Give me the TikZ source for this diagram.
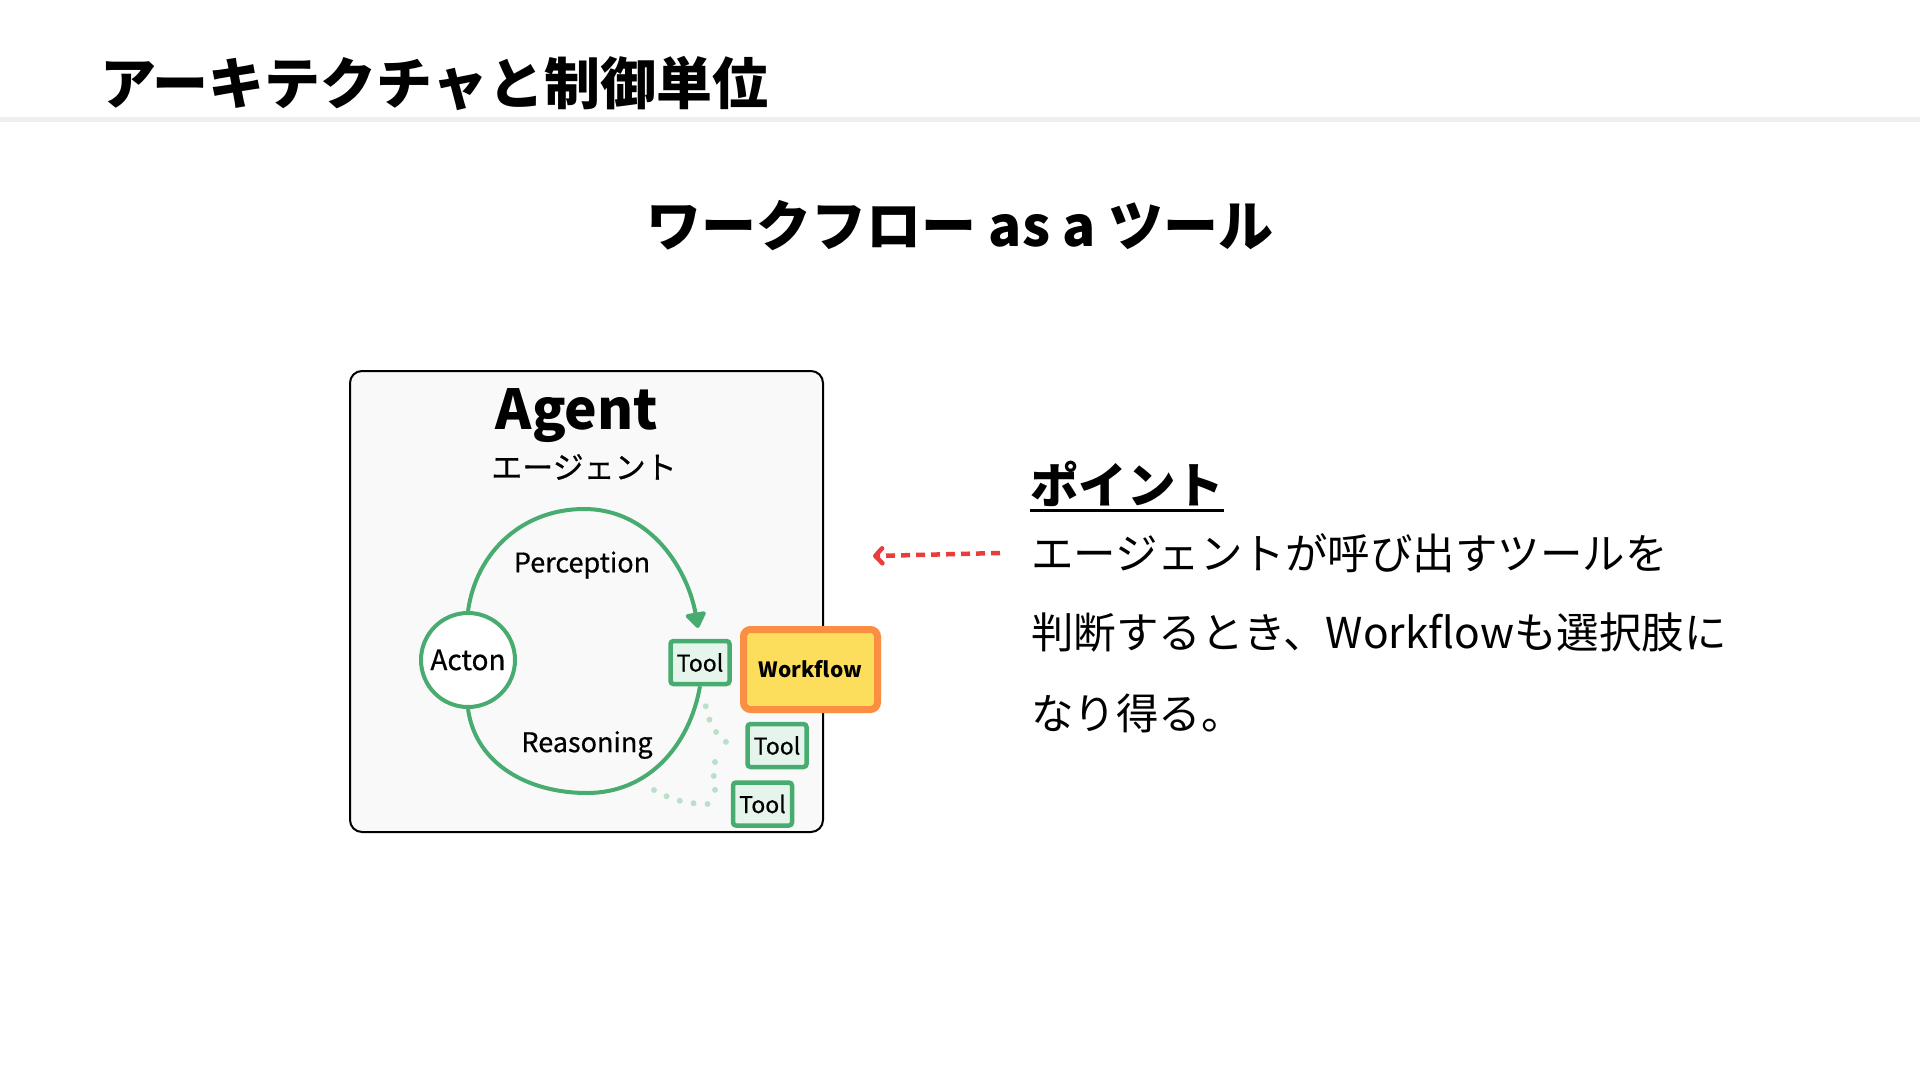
\documentclass[tikz,border=0pt]{standalone}
\usepackage{fontspec}
\setmainfont{Noto Sans CJK JP}
\newfontfamily\medfont[FakeBold=0.6]{Noto Sans CJK JP}
\usetikzlibrary{arrows.meta,positioning}
\definecolor{loopgreen}{RGB}{72,172,112}
\definecolor{toolfill}{RGB}{230,245,236}
\definecolor{dotgreen}{RGB}{185,225,202}
\definecolor{wforange}{RGB}{250,142,66}
\definecolor{wfyellow}{RGB}{253,222,92}
\definecolor{agentbg}{RGB}{249,249,249}
\definecolor{rulegray}{RGB}{238,238,238}
\definecolor{pointred}{RGB}{235,60,60}
\begin{document}
\begin{tikzpicture}[
			x=1pt,y=-1pt,
			every node/.style={inner sep=0pt},
			loopline/.style={draw=loopgreen,line width=4pt},
			toolbox/.style={draw=loopgreen,fill=toolfill,line width=4.5pt,rounded corners=3pt,
					minimum width=59pt,minimum height=43pt,font=\medfont\fontsize{23}{23}\selectfont},
			dotline/.style={draw=dotgreen,line width=6pt,line cap=round,dash pattern=on 0pt off 14pt},
			looplabel/.style={font=\medfont\fontsize{27}{27}\selectfont},
			bodyline/.style={anchor=west,font=\fontsize{42.5}{42.5}\selectfont}
		]
		\useasboundingbox[fill=white] (0,0) rectangle (1920,1080);
		\fill[rulegray] (0,117) rectangle (1920,122);
		\node[anchor=west,font=\fontsize{56}{56}\selectfont\bfseries] (title) at (100,83) {アーキテクチャと制御単位};
		\node[font=\fontsize{55}{55}\selectfont\bfseries] (subtitle) at (960,226) {ワークフロー as a ツール};

		\node[draw=black,line width=2pt,fill=agentbg,rounded corners=12pt,
			minimum width=473pt,minimum height=461pt] (agentbox) at (586.5,601.5) {};
		\node[font=\fontsize{55}{55}\selectfont\bfseries] (agent) at (577,416) {Agent};
		\node[font=\medfont\fontsize{31}{31}\selectfont] (agentjp) at (584,467) {エージェント};

		\node[circle,draw=loopgreen,line width=4pt,fill=white,minimum size=94pt,
			font=\medfont\fontsize{28}{28}\selectfont] (acton) at (468,660) {Acton};
		\node[toolbox] (tool1) at (700,662.5) {Tool};
		\node[draw=wforange,fill=wfyellow,line width=7pt,rounded corners=7pt,
			minimum width=134pt,minimum height=80pt,font=\fontsize{21}{21}\selectfont\bfseries] (workflow) at (810.5,669.5) {Workflow};
		\node[toolbox] (tool2) at (777,745.5) {Tool};
		\node[toolbox] (tool3) at (762.5,804) {Tool};
		\node[looplabel] (perception) at (582,565) {Perception};
		\node[looplabel] (reasoning) at (587,745) {Reasoning};

		\coordinate (ltop) at (584,509);
		\coordinate (lbot) at (587,793);
		\draw[loopline,-{Triangle[length=17pt,width=23pt,round]},shorten >=11pt] (acton.north) to[out=82,in=180] (ltop) to[out=0,in=100] (tool1.north);
		\draw[loopline] (acton.south) to[out=-82,in=180] (lbot) to[out=0,in=-100] (tool1.south);

		\coordinate (fork) at (715,762);
		\coordinate (lowdot) at (654,790);
		\draw[dotline,shorten <=20pt,shorten >=8pt] (tool1.-78) to[out=-88,in=180] (tool2.west);
		\draw[dotline,shorten >=10pt] (fork) to[out=-100,in=160] (tool3.west);
		\draw[dotline,shorten >=10pt] (lowdot) to[out=-30,in=180] (tool3.west);

		\node[anchor=west,font=\fontsize{48.5}{48.5}\selectfont\bfseries] (point) at (1030,484) {ポイント};
		\draw[line width=3pt] ([yshift=-3pt]point.south west) -- ([yshift=-3pt]point.south east);
		\node[bodyline] (l1) at (1031,553) {エージェントが呼び出すツールを};
		\node[bodyline] (l2) at (1031,633) {判断するとき、Workflowも選択肢に};
		\node[bodyline] (l3) at (1031,713) {なり得る。};
		\coordinate (ptr) at (873,556);
		\draw[pointred,line width=4.5pt,dash pattern=on 9pt off 6pt,-{Straight Barb[length=7pt,width=15pt,round]}] ([xshift=-31pt]l1.west) -- (ptr);
	\end{tikzpicture}
\end{document}
